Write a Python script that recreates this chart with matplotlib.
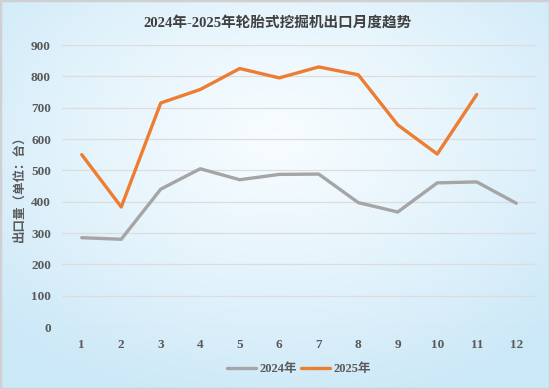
import numpy as np
import matplotlib
matplotlib.use("Agg")
import matplotlib.pyplot as plt
from matplotlib.patches import Rectangle

months = [str(i) for i in range(1, 13)]
sales_2024 = [285, 280, 440, 505, 470, 487, 488, 397, 367, 460, 463, 395]
sales_2025 = [550, 383, 715, 758, 825, 795, 830, 805, 645, 552, 742]
yticks = [0, 100, 200, 300, 400, 500, 600, 700, 800, 900]

plt.rcParams['font.family'] = ['Liberation Serif', 'Noto Sans CJK SC', 'DejaVu Sans']
plt.rcParams['font.weight'] = 'bold'

W, H = 550, 389
fig = plt.figure(figsize=(W / 100, H / 100), dpi=100)

# background gradient (light blue edges, whiter centre)
bg = fig.add_axes([0, 0, 1, 1], zorder=-10)
yy, xx = np.mgrid[0:H, 0:W]
cx, cy = 0.5 * W, 0.35 * H
d = np.sqrt(((xx - cx) / W) ** 2 + ((yy - cy) / H) ** 2)
t = np.clip(d / 0.7, 0, 1) ** 1.2
white = np.array([0.97, 0.99, 1.0])
blue = np.array([0.80, 0.91, 0.97])
img = white[None, None, :] * (1 - t[..., None]) + blue[None, None, :] * t[..., None]
bg.imshow(img, aspect='auto', extent=[0, 1, 0, 1], origin='upper')
bg.set_xlim(0, 1)
bg.set_ylim(0, 1)
bg.axis('off')
bg.add_patch(Rectangle((0, 0), 1, 1, transform=bg.transAxes, fill=False,
                       edgecolor='#d0d0d0', linewidth=2.5))

left, right = 62 / W, 536 / W
top, bottom = 45 / H, 327 / H
ax = fig.add_axes([left, 1 - bottom, right - left, bottom - top])
ax.patch.set_alpha(0)

x24 = np.arange(1, len(sales_2024) + 1)
x25 = np.arange(1, len(sales_2025) + 1)
ax.plot(x24, sales_2024, color='#A5A5A5', lw=2.4, label='2024年', solid_capstyle='round')
ax.plot(x25, sales_2025, color='#ED7D31', lw=2.4, label='2025年', solid_capstyle='round')

ax.set_xlim(0.5, 12.5)
ax.set_ylim(0, 900)
ax.set_yticks(yticks)
ax.set_yticklabels([str(v) for v in yticks])
ax.set_xticks(np.arange(1, 13))
ax.set_xticklabels(months)
ax.grid(axis='y', color='#dcdcdc', lw=0.9)
ax.set_axisbelow(True)
for s in ax.spines.values():
    s.set_visible(False)
ax.tick_params(length=0, colors='#595959', labelsize=9.5)
ax.tick_params(axis='y', pad=8)
ax.tick_params(axis='x', pad=9)

ax.set_ylabel('出口量（单位：台）', fontsize=9, color='#595959', fontweight='bold', labelpad=4,
              family=['Noto Sans CJK SC'])

fig.text(0.505, 1 - 23 / H, '2024年-2025年轮胎式挖掘机出口月度趋势', ha='center', va='center',
         fontsize=10.5, fontweight='bold', color='#404040')

leg = ax.legend(loc='center', bbox_to_anchor=(0.5, (327 - 369) / (327 - 45)), ncol=2,
                frameon=False, fontsize=9, handlelength=2.3, handletextpad=0.3,
                columnspacing=0.3, labelcolor='#595959')

fig.savefig('out.png', dpi=100)
